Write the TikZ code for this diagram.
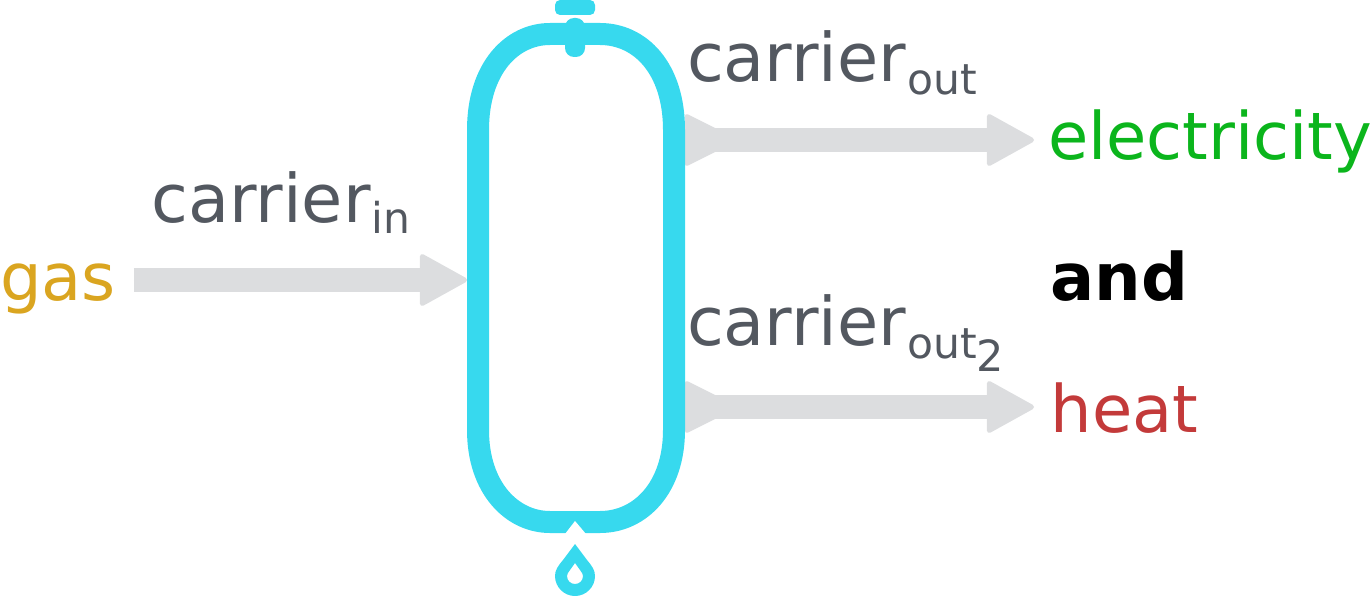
\documentclass[tikz,border=0pt]{standalone}
\usepackage{fontspec}
\setmainfont{DejaVu Sans}
\usetikzlibrary{arrows.meta}
\definecolor{vesselc}{HTML}{37D9EE}
\definecolor{flowc}{HTML}{DCDDDF}
\definecolor{labelc}{HTML}{535860}
\definecolor{gasc}{HTML}{DAA520}
\definecolor{elecc}{HTML}{0BB51C}
\definecolor{heatc}{HTML}{C33A3A}
\newcommand{\bodyfs}{\fontsize{65.5}{66}\selectfont}
\newcommand{\carrierfs}{\fontsize{67}{67}\selectfont}
\newcommand{\subfs}{\fontsize{42.5}{42.5}\selectfont}
\newcommand{\subtwofs}{\fontsize{43}{43}\selectfont}
\newcommand{\subtext}[2]{\raisebox{#1}{\subfs #2}}
\tikzset{
  x=1pt,y=-1pt,
  headtip/.tip={Triangle[length=50pt,width=54pt,line width=5pt,round]},
  flow/.style={draw=flowc,fill=flowc,color=flowc,line width=24pt},
  flowtail/.style={fill=flowc,rounded corners=3pt},
  txt/.style={anchor=base west,inner sep=0pt,outer sep=0pt,font=\bodyfs},
  cartxt/.style={txt,text=labelc,font=\carrierfs},
  vesselline/.style={draw=vesselc,line width=22pt},
  vesselpart/.style={fill=vesselc}
}
\begin{document}
\begin{tikzpicture}
\useasboundingbox (0,0) rectangle (1372,596);
% labels
\node[txt,text=gasc] (gas) at (0,300) {gas};
\node[cartxt] (cin) at (151.5,222) {carrier\kern1pt\subtext{-12pt}{in}};
\node[cartxt] (cout) at (687,82) {carrier\kern1pt\subtext{-13pt}{out}};
\node[cartxt] (cout2) at (687,345) {carrier\kern1pt\subtext{-13pt}{out}\raisebox{-26pt}{\subtwofs 2}};
\node[txt,text=elecc] (elec) at (1048,160) {electricity};
\node[txt,text=black,font=\bodyfs\bfseries] (and) at (1050.5,300) {and};
\node[txt,text=heatc] (heat) at (1050.5,432) {heat};
% vessel frame anchors
\node[inner sep=0pt,minimum width=218pt,minimum height=510pt] (vessel) at (576,278) {};
\coordinate (vin) at (467,280);
\coordinate (vout1) at (685,140);
\coordinate (vout2) at (685,407);
% connectors
\draw[flow,-{headtip}] ([xshift=18pt]gas.east |- vin) -- (vin);
\draw[flow,-{headtip}] (vout1) -- ([xshift=-14pt]vout1 -| elec.west);
\draw[flow,-{headtip}] (vout2) -- ([xshift=-16.5pt]vout2 -| heat.west);
\fill[flowtail] ([yshift=27pt]vout1) -- ([xshift=54pt]vout1) -- ([yshift=-27pt]vout1) -- cycle;
\fill[flowtail] ([yshift=27pt]vout2) -- ([xshift=54pt]vout2) -- ([yshift=-27pt]vout2) -- cycle;
% vessel
\draw[vesselline] (550,34) -- (600,34)
  .. controls (640,34) and (674,68) .. (674,130) -- (674,430)
  .. controls (674,488) and (640,522) .. (600,522) -- (550,522)
  .. controls (512,522) and (478,488) .. (478,430) -- (478,130)
  .. controls (478,68) and (512,34) .. (550,34) -- cycle;
\fill[vesselpart,rounded corners=5pt] (555,0) rectangle (595,15);
\fill[vesselpart,rounded corners=9pt] (565,18) rectangle (585,57);
\fill[white] (565,534) -- (575,521) -- (586,534) -- cycle;
\fill[vesselpart,even odd rule] (575,544) -- (563,560)
  .. controls (558,566) and (555,570) .. (555,576)
  .. controls (555,587) and (564,596) .. (575,596)
  .. controls (586,596) and (595,587) .. (595,576)
  .. controls (595,570) and (592,566) .. (587,560) -- cycle
  (575,563) -- (570,570) .. controls (568,573) and (567,574) .. (567,576)
  .. controls (567,581) and (571,584) .. (575,584)
  .. controls (579,584) and (583,581) .. (583,576)
  .. controls (583,574) and (582,573) .. (580,570) -- cycle;
\end{tikzpicture}
\end{document}
